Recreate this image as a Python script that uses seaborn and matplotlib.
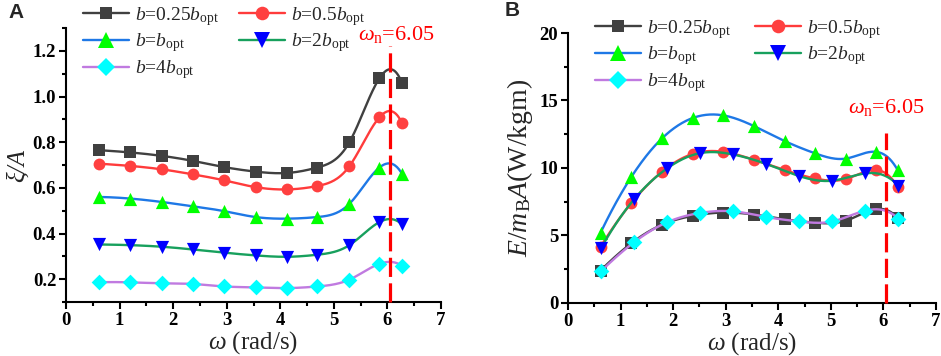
import numpy as np
import matplotlib
matplotlib.use("Agg")
import matplotlib.pyplot as plt
from matplotlib.lines import Line2D
from matplotlib.ticker import MultipleLocator
import seaborn as sns

# ---------------- data ----------------
omega_a = [0.62, 1.20, 1.79, 2.37, 2.95, 3.54, 4.12, 4.69, 5.29, 5.85, 6.27]
omega_b = [0.628, 1.257, 1.885, 2.513, 3.142, 3.770, 4.398, 5.027, 5.655, 6.283]

labels = [r'$b$=0.25$b_{\rm opt}$', r'$b$=0.5$b_{\rm opt}$', r'$b$=$b_{\rm opt}$',
          r'$b$=2$b_{\rm opt}$', r'$b$=4$b_{\rm opt}$']

# panel A : xi / A
xiA_025 = [0.765, 0.755, 0.740, 0.718, 0.691, 0.671, 0.665, 0.689, 0.800, 1.080, 1.060]
xiA_05 = [0.706, 0.696, 0.681, 0.659, 0.633, 0.603, 0.593, 0.608, 0.695, 0.909, 0.885]
xiA_1 = [0.560, 0.553, 0.538, 0.519, 0.498, 0.472, 0.465, 0.472, 0.530, 0.689, 0.662]
xiA_2 = [0.352, 0.349, 0.342, 0.330, 0.316, 0.304, 0.298, 0.307, 0.349, 0.450, 0.440]
xiA_4 = [0.186, 0.186, 0.182, 0.179, 0.168, 0.164, 0.161, 0.168, 0.198, 0.267, 0.259]

# panel B : E / (m_B A)
EB_025 = [2.40, 4.41, 5.80, 6.45, 6.70, 6.55, 6.20, 5.95, 6.10, 6.95, 6.30]
EB_05 = [4.17, 7.38, 9.73, 11.04, 11.20, 10.60, 9.85, 9.23, 9.19, 9.85, 8.60]
EB_1 = [5.21, 9.31, 12.20, 13.70, 13.90, 13.10, 12.00, 11.10, 10.70, 11.20, 9.85]
EB_2 = [4.05, 7.68, 9.97, 11.10, 11.00, 10.30, 9.40, 9.06, 9.60, 8.69]
EB_4 = [2.35, 4.50, 5.98, 6.67, 6.79, 6.37, 6.04, 6.04, 6.84, 6.25]

omega_n = 6.05

# ---------------- style ----------------
line_colors = ['#404040', '#ff3b3b', '#1e78e6', '#17a05d', '#c07ae0']
mark_colors = ['#404040', '#ff4040', '#00ff00', '#0000ff', '#00ffff']
markers = ['s', 'o', '^', 'v', 'D']
msizes = [8, 8.5, 9.5, 9.5, 8]

sns.set_theme(style="ticks")
plt.rcParams['font.family'] = ['Liberation Serif', 'DejaVu Serif']
plt.rcParams['font.weight'] = 'bold'
plt.rcParams['mathtext.fontset'] = 'custom'
plt.rcParams['mathtext.rm'] = 'Liberation Serif:weight=normal'
plt.rcParams['mathtext.it'] = 'Liberation Serif:italic:weight=normal'
plt.rcParams['mathtext.bf'] = 'Liberation Serif:weight=bold'


def spline(x, y, n=300):
    """not-a-knot cubic spline through the data points"""
    x = np.asarray(x, float)
    y = np.asarray(y, float)
    N = len(x)
    h = np.diff(x)
    A = np.zeros((N, N))
    r = np.zeros(N)
    A[0, 0], A[0, 1], A[0, 2] = h[1], -(h[0] + h[1]), h[0]
    A[-1, -3], A[-1, -2], A[-1, -1] = h[-1], -(h[-2] + h[-1]), h[-2]
    for i in range(1, N - 1):
        A[i, i - 1] = h[i - 1]
        A[i, i] = 2 * (h[i - 1] + h[i])
        A[i, i + 1] = h[i]
        r[i] = 6 * ((y[i + 1] - y[i]) / h[i] - (y[i] - y[i - 1]) / h[i - 1])
    M = np.linalg.solve(A, r)
    xs = np.linspace(x[0], x[-1], n)
    idx = np.clip(np.searchsorted(x, xs) - 1, 0, N - 2)
    x0, x1 = x[idx], x[idx + 1]
    hh = x1 - x0
    a = (x1 - xs) / hh
    b = (xs - x0) / hh
    ys = a * y[idx] + b * y[idx + 1] + ((a ** 3 - a) * M[idx] + (b ** 3 - b) * M[idx + 1]) * hh ** 2 / 6
    return xs, ys


def draw_series(ax, xs, ys, i):
    sx, sy = spline(xs, ys)
    sns.lineplot(x=sx, y=sy, ax=ax, color=line_colors[i], lw=1.7, sort=False,
                 legend=False, zorder=3 + i)
    sns.scatterplot(x=xs, y=ys, ax=ax, marker=markers[i], s=msizes[i] ** 2,
                    color=mark_colors[i], linewidth=0, legend=False, zorder=3.5 + i)


fig = plt.figure(figsize=(9.41, 3.56), dpi=100)
axA = fig.add_axes([0.0701, 0.1517, 0.3986, 0.7696])
axB = fig.add_axes([0.6036, 0.1489, 0.3911, 0.7584])

A_series = [xiA_025, xiA_05, xiA_1, xiA_2, xiA_4]
for i, ys in enumerate(A_series):
    draw_series(axA, omega_a, ys, i)

B_series = [(omega_a, EB_025), (omega_a, EB_05), (omega_a, EB_1), (omega_b, EB_2), (omega_b, EB_4)]
for i, (xs, ys) in enumerate(B_series):
    draw_series(axB, xs, ys, i)

xt = list(range(8))
for ax in (axA, axB):
    ax.set_xlim(0, 7)
    ax.set_xticks(xt, [str(v) for v in xt])
    ax.xaxis.set_minor_locator(MultipleLocator(0.5))
    for s in ('top', 'right'):
        ax.spines[s].set_visible(False)
    for s in ('left', 'bottom'):
        ax.spines[s].set_linewidth(1.5)
        ax.spines[s].set_color('black')
    ax.tick_params(which='major', direction='out', length=5, width=1.5, colors='black',
                   labelsize=13.5, pad=2)
    ax.tick_params(which='minor', direction='out', length=3, width=1.5, colors='black')
    ax.set_xlabel(r'$\omega$ (rad/s)', fontsize=18, fontweight='normal', labelpad=0)
    ax.set_facecolor('white')

yA = [0.2, 0.4, 0.6, 0.8, 1.0, 1.2]
axA.set_ylim(0.1, 1.3)
axA.set_yticks(yA, [f'{v:.1f}' for v in yA])
axA.yaxis.set_minor_locator(MultipleLocator(0.1))
axA.set_ylabel('ξ/A', fontsize=18, fontstyle='italic', fontweight='normal', labelpad=3)

yB = [0, 5, 10, 15, 20]
axB.set_ylim(0, 20)
axB.set_yticks(yB, [str(v) for v in yB])
axB.yaxis.set_minor_locator(MultipleLocator(2.5))
axB.set_ylabel(r'$E/m_{\rm B}A$(W/kgm)', fontsize=20, fontweight='normal', labelpad=3)

# resonance lines
dash = (0, (6, 2))
axA.plot([omega_n, omega_n], [0.1, 1.22], color='#ff0000', lw=2.3, ls=dash, zorder=20,
         clip_on=False)
axA.text(6.16, 1.27, r'$\omega_{\rm n}$=6.05', color='#ff0000', fontsize=16,
         fontweight='normal', ha='center', va='center')
axB.plot([omega_n, omega_n], [0, 12.6], color='#ff0000', lw=2.3, ls=dash, zorder=20,
         clip_on=False)
axB.text(6.06, 14.5, r'$\omega_{\rm n}$=6.05', color='#ff0000', fontsize=16,
         fontweight='normal', ha='center', va='center')

# legends (row-major order as in the reference)
handles = [Line2D([], [], color=line_colors[i], lw=1.7, marker=markers[i],
                  markersize=msizes[i] * 1.15, markerfacecolor=mark_colors[i],
                  markeredgewidth=0) for i in range(5)]
order = [0, 2, 4, 1, 3]
hs = [handles[k] for k in order]
ls = [labels[k] for k in order]
leg_kw = dict(ncol=2, frameon=False, prop={'size': 14, 'weight': 'normal'}, borderpad=0,
              handlelength=2.4, handletextpad=0.3, labelspacing=0.2, loc='upper left',
              bbox_transform=fig.transFigure)
axA.legend(hs, ls, bbox_to_anchor=(73 / 941, 1 + 5 / 356), columnspacing=1.0, **leg_kw)
axB.legend(hs, ls, bbox_to_anchor=(585 / 941, 1 - 8 / 356), columnspacing=1.2, **leg_kw)

fig.text(8 / 941, 1 - 13 / 356, 'A', fontsize=15, fontweight='bold', family='Liberation Sans',
         va='center', ha='left')
fig.text(505 / 941, 1 - 11 / 356, 'B', fontsize=15, fontweight='bold', family='Liberation Sans',
         va='center', ha='left')

fig.savefig('out.png', dpi=100, facecolor='white')
